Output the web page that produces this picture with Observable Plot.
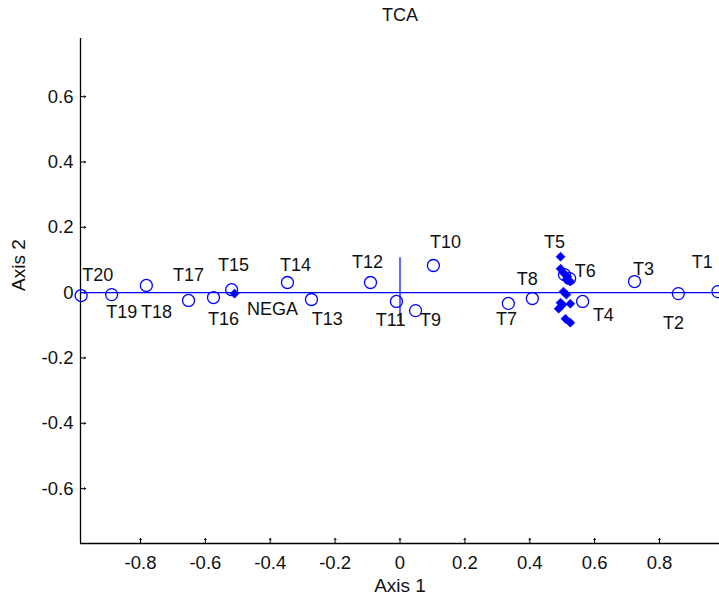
<!DOCTYPE html>
<html>
<head>
<meta charset="utf-8">
<script src="https://cdn.jsdelivr.net/npm/d3@7"></script>
<script src="https://cdn.jsdelivr.net/npm/@observablehq/plot@0.6"></script>
<style>
  html, body { margin: 0; padding: 0; background: #fff; }
  #chart svg { display: block; }
</style>
</head>
<body>
<div id="chart"></div>
<script>
// Open circles (samples)
const pointNames = ["T1","T2","T3","T4","T5","T6","T7","T8","T9","T10",
                    "T11","T12","T13","T14","T15","T16","T17","T18","T19","T20"];
const pointX = [0.980, 0.858, 0.723, 0.563, 0.507, 0.523, 0.334, 0.408, 0.048, 0.103,
                -0.011, -0.091, -0.273, -0.347, -0.519, -0.575, -0.652, -0.782, -0.889, -0.983];
const pointY = [0.003, -0.003, 0.034, -0.027, 0.055, 0.043, -0.033, -0.018, -0.055, 0.083,
                -0.027, 0.031, -0.021, 0.031, 0.009, -0.015, -0.024, 0.022, -0.006, -0.009];

// Filled diamonds (variables)
const diamondX = [-0.510, 0.495, 0.495, 0.504, 0.516, 0.525, 0.513, 0.504, 0.513,
                  0.495, 0.489, 0.501, 0.525, 0.510, 0.525];
const diamondY = [-0.003, 0.110, 0.073, 0.061, 0.049, 0.034, 0.040, 0.003, -0.006,
                  -0.031, -0.049, -0.037, -0.034, -0.080, -0.092];

// Label anchors (data units)
const labelNames = ["T1","T2","T3","T4","T5","T6","T7","T8","T9","T10",
                    "T11","T12","T13","T14","T15","T16","T17","T18","T19","T20","NEGA"];
const labelX = [0.932, 0.843, 0.751, 0.627, 0.476, 0.571, 0.328, 0.392, 0.094, 0.140,
                -0.029, -0.100, -0.224, -0.322, -0.513, -0.544, -0.652, -0.751, -0.858, -0.932, -0.393];
const labelY = [0.092, -0.095, 0.072, -0.070, 0.153, 0.064, -0.080, 0.040, -0.083, 0.153,
                -0.085, 0.092, -0.080, 0.083, 0.083, -0.080, 0.052, -0.061, -0.061, 0.052, -0.052];

// Axes
const xDomain = [-0.985, 0.985];
const yDomain = [-0.768, 0.778];
const xTicks = [-0.8, -0.6, -0.4, -0.2, 0, 0.2, 0.4, 0.6, 0.8];
const yTicks = [-0.6, -0.4, -0.2, 0, 0.2, 0.4, 0.6];
const originY1 = -0.092, originY2 = 0.107; // short vertical line at x = 0

const points = pointNames.map((n, i) => ({name: n, x: pointX[i], y: pointY[i]}));
const diamonds = diamondX.map((x, i) => ({x, y: diamondY[i]}));
const labels = labelNames.map((n, i) => ({name: n, x: labelX[i], y: labelY[i]}));

const blue = "#0000ff";
const ink = "#111";
const font = "Liberation Sans, Arial, Helvetica, sans-serif";
const fmt = d => d === 0 ? "0" : d3.format(".1f")(d).replace("−", "-");

const chart = Plot.plot({
  width: 719,
  height: 597,
  marginLeft: 80,
  marginRight: 0,
  marginTop: 38,
  marginBottom: 54,
  style: {fontFamily: font, fontSize: "18px", color: ink, background: "#fff", overflow: "visible"},
  x: {domain: xDomain, ticks: xTicks},
  y: {domain: yDomain, ticks: yTicks},
  marks: [
    // axis lines
    Plot.ruleX([xDomain[0]], {stroke: "#000", strokeWidth: 1.3}),
    Plot.ruleY([yDomain[0]], {stroke: "#000", strokeWidth: 1.3}),
    // inward ticks
    Plot.vector(xTicks, {x: d => d, frameAnchor: "bottom", length: 5, rotate: 0, anchor: "start", stroke: "#000", strokeWidth: 1}),
    Plot.vector(yTicks, {y: d => d, frameAnchor: "left", length: 5, rotate: 90, anchor: "start", stroke: "#000", strokeWidth: 1}),
    Plot.axisX({ticks: xTicks, tickSize: 0, tickPadding: 12.5, tickFormat: fmt, label: null, fontSize: 18.5, fill: ink}),
    Plot.axisY({ticks: yTicks, tickSize: 0, tickPadding: 7, tickFormat: fmt, label: null, fontSize: 18.5, fill: ink}),
    // reference lines
    Plot.ruleY([0], {stroke: blue, strokeWidth: 1.2}),
    Plot.ruleX([0], {y1: originY1, y2: originY2, stroke: blue, strokeWidth: 1.2}),
    // data
    Plot.dot(diamonds, {x: "x", y: "y", symbol: "square", rotate: 45, r: 3.6, fill: blue, stroke: blue, strokeWidth: 0.6}),
    Plot.dot(points, {x: "x", y: "y", r: 6, stroke: blue, strokeWidth: 1.3, fill: "none"}),
    Plot.text(labels, {x: "x", y: "y", text: "name", fill: ink, fontSize: 18, textAnchor: "middle", lineAnchor: "middle"}),
    // titles
    Plot.text(["TCA"], {frameAnchor: "top", dy: -23, lineAnchor: "middle", fontSize: 18, fill: ink}),
    Plot.text(["Axis 1"], {frameAnchor: "bottom", dy: 42, lineAnchor: "middle", fontSize: 19, fill: ink}),
    Plot.text(["Axis 2"], {frameAnchor: "left", dx: -62, rotate: -90, lineAnchor: "middle", fontSize: 19, fill: ink})
  ]
});
document.getElementById("chart").appendChild(chart);
</script>
</body>
</html>
